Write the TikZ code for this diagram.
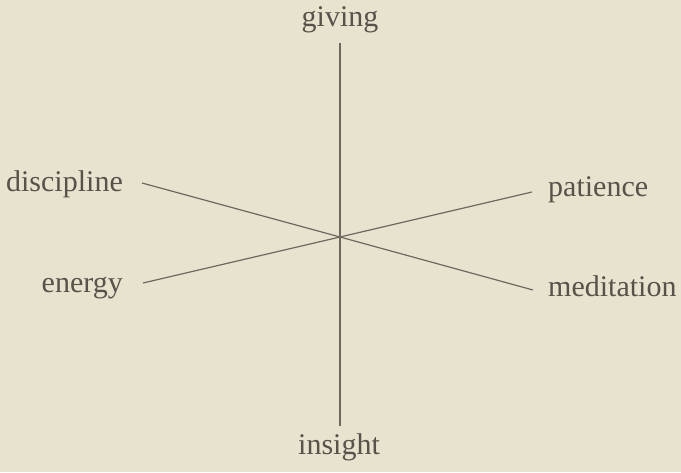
\documentclass[tikz,border=0pt]{standalone}
\usepackage{fontspec}
\setmainfont{Liberation Serif}
\definecolor{paper}{HTML}{E8E3CF}
\definecolor{ink}{HTML}{57524A}
\definecolor{rule}{HTML}{6E685F}
\begin{document}
\begin{tikzpicture}[x=1pt,y=-1pt,
  lbl/.style={inner sep=0pt,text=ink,font=\fontsize{30}{32}\selectfont},
  spoke/.style={draw=rule,line width=1.2pt}]
\fill[paper] (0,0) rectangle (681,472);
\useasboundingbox (0,0) rectangle (681,472);
\coordinate (c) at (340,237);
\coordinate (top) at (340,43);
\coordinate (bot) at (340,426);
\coordinate (dl) at (142,183);
\coordinate (el) at (143,283);
\coordinate (pr) at (532,192);
\coordinate (mr) at (533,290);
\node[lbl,anchor=base] (giving) at (340,26) {giving};
\node[lbl,anchor=base] (insight) at (339,454) {insight};
\node[lbl,anchor=base east] (discipline) at (123,191) {discipline};
\node[lbl,anchor=base east] (energy) at (123,292) {energy};
\node[lbl,anchor=base west] (patience) at (548,196) {patience};
\node[lbl,anchor=base west] (meditation) at (548,296) {meditation};
\draw[spoke] (top) -- (bot);
\draw[spoke] (dl) -- (c) -- (mr);
\draw[spoke] (el) -- (c) -- (pr);
\end{tikzpicture}
\end{document}
